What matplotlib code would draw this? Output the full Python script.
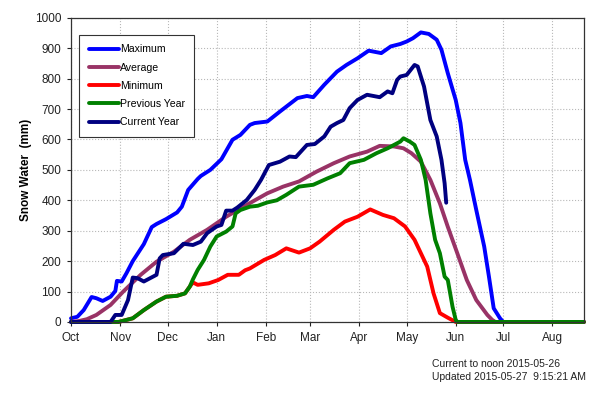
import matplotlib
matplotlib.use('Agg')
import matplotlib.pyplot as plt

plt.rcParams['font.family'] = ['Liberation Sans', 'DejaVu Sans']

# x = days since Oct 1 (water year 2014-15)
month_days = [0, 31, 61, 92, 123, 151, 182, 212, 243, 273, 304]
month_labels = ['Oct', 'Nov', 'Dec', 'Jan', 'Feb', 'Mar', 'Apr', 'May', 'Jun', 'Jul', 'Aug']

max_days = [0, 4, 8, 13, 16, 20, 25, 28, 29, 32, 35, 39, 46, 51, 54, 60, 67, 70, 74, 80, 82,
            88, 95, 102, 107, 113, 116, 124, 132, 143, 149, 153, 160, 168, 174, 181, 188,
            196, 202, 208, 212, 216, 221, 226, 231, 234, 238, 243, 246, 249, 252, 256, 261,
            264, 267, 271, 273, 324]
max_swe = [12, 17, 39, 82, 78, 69, 83, 102, 135, 133, 160, 200, 256, 312, 322, 338, 360, 379,
           434, 470, 480, 500, 535, 599, 615, 648, 654, 659, 692, 736, 743, 739, 780, 823,
           845, 867, 892, 884, 906, 914, 922, 933, 952, 947, 928, 895, 818, 730, 654, 533,
           467, 368, 248, 149, 45, 12, 0, 0]

avg_days = [0, 5, 10, 16, 25, 33, 44, 54, 65, 75, 86, 98, 111, 124, 134, 144, 155, 166, 176,
            187, 195, 204, 210, 215, 221, 227, 233, 238, 244, 250, 256, 263, 266, 268, 324]
avg_swe = [0, 3, 9, 23, 56, 100, 155, 198, 231, 270, 303, 346, 385, 423, 445, 462, 494, 522,
           544, 560, 579, 577, 571, 555, 527, 467, 390, 313, 226, 138, 72, 23, 7, 0, 0]

min_days = [0, 30, 39, 46, 54, 60, 67, 72, 75, 77, 80, 87, 93, 99, 106, 110, 113, 122, 129,
            136, 144, 151, 157, 166, 173, 181, 189, 197, 204, 211, 217, 225, 229, 233, 238,
            243, 324]
min_swe = [0, 0, 12, 39, 67, 83, 86, 94, 116, 130, 122, 127, 138, 155, 155, 170, 176, 204,
           220, 242, 228, 242, 264, 303, 330, 346, 370, 352, 341, 314, 270, 182, 94, 29, 14,
           0, 0]

prev_days = [0, 30, 39, 46, 54, 60, 67, 72, 75, 77, 80, 84, 88, 92, 98, 102, 104, 107, 113,
             118, 124, 130, 136, 144, 153, 162, 170, 176, 185, 193, 200, 208, 210, 214, 217,
             221, 224, 227, 230, 233, 236, 238, 241, 243, 244, 324]
prev_swe = [0, 0, 12, 39, 67, 83, 86, 94, 116, 140, 171, 204, 248, 281, 297, 314, 357, 368,
            379, 382, 393, 400, 418, 445, 451, 472, 489, 522, 533, 555, 571, 593, 604, 593,
            582, 533, 467, 357, 270, 226, 149, 138, 50, 7, 0, 0]

cur_days = [0, 25, 28, 32, 36, 39, 42, 46, 54, 56, 58, 65, 71, 77, 82, 86, 92, 95, 98, 102,
            105, 111, 116, 120, 125, 132, 138, 142, 149, 154, 160, 164, 168, 172, 176, 181,
            187, 195, 200, 203, 206, 208, 212, 217, 219, 223, 227, 231, 234, 236, 237]
cur_swe = [0, 0, 23, 23, 72, 146, 144, 133, 155, 209, 220, 226, 257, 253, 264, 292, 314, 319,
           366, 366, 376, 401, 434, 467, 516, 527, 544, 542, 582, 585, 610, 642, 654, 664,
           703, 730, 747, 739, 758, 752, 796, 807, 812, 845, 840, 774, 664, 610, 533, 456, 392]

fig = plt.figure(figsize=(6.07, 3.96), dpi=100)
ax = fig.add_axes([0.117, 0.187, 0.845, 0.768])

kw = dict(lw=2.8, clip_on=False, solid_joinstyle='round', solid_capstyle='round')
ax.plot(max_days, max_swe, color='#0000FF', label='Maximum', **kw)
ax.plot(avg_days, avg_swe, color='#993366', label='Average', **kw)
ax.plot(min_days, min_swe, color='#FF0000', label='Minimum', **kw)
ax.plot(prev_days, prev_swe, color='#008000', label='Previous Year', **kw)
ax.plot(cur_days, cur_swe, color='#000080', label='Current Year', **kw)

ax.set_xlim(0, 324)
ax.set_ylim(0, 1000)
ax.set_xticks(month_days)
ax.set_xticklabels(month_labels)
ax.set_yticks(range(0, 1001, 100))
ax.tick_params(labelsize=8.5, length=3, width=0.8, pad=4, colors='#222222')
ax.grid(True, color='#b8b8b8', linestyle=':', linewidth=0.8)
ax.set_axisbelow(True)
for s in ax.spines.values():
    s.set_color('#333333')
    s.set_linewidth(0.9)

ax.set_ylabel('Snow Water  (mm)', fontsize=8.5, fontweight='bold', labelpad=2)

leg = ax.legend(loc='upper left', bbox_to_anchor=(0.0156, 0.944), borderaxespad=0,
                fontsize=7.6, handlelength=2.9, handletextpad=0.05, labelspacing=0.78,
                borderpad=0.9, fancybox=False, framealpha=1, edgecolor='#333333')
leg.get_frame().set_linewidth(0.8)

fig.text(0.712, 0.072, 'Current to noon 2015-05-26', fontsize=7.5, color='#222222')
fig.text(0.712, 0.040, 'Updated 2015-05-27  9:15:21 AM', fontsize=7.5, color='#222222')

fig.savefig('out.png', dpi=100)
